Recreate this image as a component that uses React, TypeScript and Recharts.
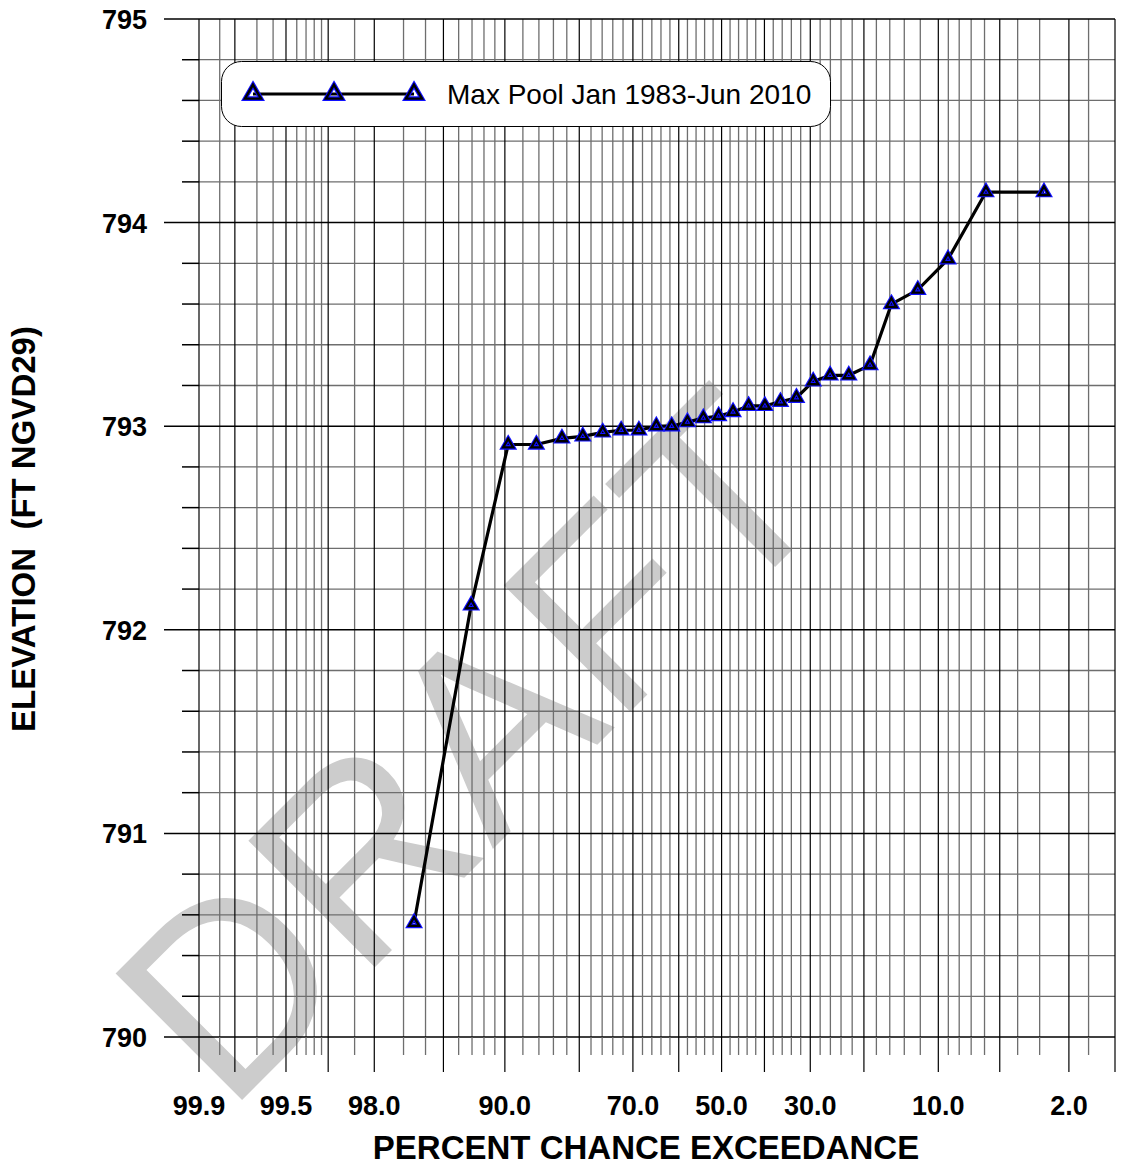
import React from 'react';
import { Legend, Line, LineChart, ReferenceLine, XAxis, YAxis } from 'recharts';

const FONT = '"Liberation Sans", Arial, Helvetica, sans-serif';

// percent chance exceedance of each ranked pool value
const exceedance = [
  96.55, 93.07, 89.65, 86.33, 82.74, 79.41, 75.89, 72.37, 68.76, 65.02, 61.6, 58.0, 54.3, 50.7,
  47.3, 43.65, 39.9, 36.4, 32.9, 29.4, 26.05, 22.6, 19.0, 15.76, 12.3, 9.03, 5.9, 2.83,
];
const elevation = [
  790.56, 792.12, 792.91, 792.91, 792.94, 792.95, 792.97, 792.98, 792.98, 793.0, 793.0, 793.02,
  793.04, 793.05, 793.07, 793.1, 793.1, 793.12, 793.14, 793.22, 793.25, 793.25, 793.3, 793.6,
  793.67, 793.82, 794.15, 794.15,
];

const labeledPct = [99.9, 99.5, 98, 90, 70, 50, 30, 10, 2];
const majorPct = [99.9, 99.8, 99.5, 99, 98, 95, 90, 80, 70, 60, 50, 40, 30, 20, 10, 5, 2, 1];
const minorPct = [
  99.85, 99.7, 99.6, 99.4, 99.3, 99.2, 99.1, 98.5, 97, 96, 94, 93, 92, 91, 88, 86, 84, 82, 78, 76,
  74, 72, 68, 66, 64, 62, 58, 56, 54, 52, 48, 46, 44, 42, 38, 36, 34, 32, 28, 26, 24, 22, 18, 16,
  14, 12, 9, 8, 7, 6, 4, 3, 1.5,
];
const elevMajor = [790, 791, 792, 793, 794, 795];
const elevMinor = [
  790.2, 790.4, 790.6, 790.8, 791.2, 791.4, 791.6, 791.8, 792.2, 792.4, 792.6, 792.8, 793.2, 793.4,
  793.6, 793.8, 794.2, 794.4, 794.6, 794.8,
];

// inverse standard normal (Acklam) -> probability paper x position
function invNorm(p: number): number {
  const a = [-39.69683028665376, 220.9460984245205, -275.9285104469687, 138.357751867269, -30.66479806614716, 2.506628277459239];
  const b = [-54.47609879822406, 161.5858368580409, -155.6989798598866, 66.80131188771972, -13.28068155288572];
  const c = [-0.007784894002430293, -0.3223964580411365, -2.400758277161838, -2.549732539343734, 4.374664141464968, 2.938163982698783];
  const d = [0.007784695709041462, 0.3224671290700398, 2.445134137142996, 3.754408661907416];
  const tail = (q: number) =>
    (((((c[0] * q + c[1]) * q + c[2]) * q + c[3]) * q + c[4]) * q + c[5]) /
    ((((d[0] * q + d[1]) * q + d[2]) * q + d[3]) * q + 1);
  if (p < 0.02425) return tail(Math.sqrt(-2 * Math.log(p)));
  if (p > 1 - 0.02425) return -tail(Math.sqrt(-2 * Math.log(1 - p)));
  const q = p - 0.5;
  const r = q * q;
  return (
    ((((((a[0] * r + a[1]) * r + a[2]) * r + a[3]) * r + a[4]) * r + a[5]) * q) /
    (((((b[0] * r + b[1]) * r + b[2]) * r + b[3]) * r + b[4]) * r + 1)
  );
}
const probX = (pct: number) => invNorm(1 - pct / 100);

const data = exceedance.map((p, i) => ({ x: probX(p), pct: p, elev: elevation[i] }));
const xTickPct = [...majorPct, ...minorPct];
const xTicks = xTickPct.map(probX);
const yTicks = [...elevMajor, ...elevMinor];

const BLUE = '#1010ff';
const MINOR = '#6e6e6e';

function Triangle({ cx, cy, side }: { cx: number; cy: number; side: number }) {
  const h = side * 0.866;
  const pts = `${cx},${cy - (h * 2) / 3} ${cx + side / 2},${cy + h / 3} ${cx - side / 2},${cy + h / 3}`;
  return (
    <g>
      <polygon points={pts} fill="none" stroke={BLUE} strokeWidth={4.6} />
      <polygon points={pts} fill="none" stroke="#000" strokeWidth={2.4} />
    </g>
  );
}

const renderDot = (props: any) => (
  <Triangle key={`dot-${props.index}`} cx={props.cx} cy={props.cy} side={10} />
);

const XTick = (props: any) => {
  const { x, y, payload } = props;
  let idx = 0;
  xTicks.forEach((t, i) => {
    if (Math.abs(t - payload.value) < Math.abs(xTicks[idx] - payload.value)) idx = i;
  });
  const pct = xTickPct[idx];
  const major = majorPct.includes(pct);
  return (
    <g>
      <line x1={x} y1={y} x2={x} y2={y + (major ? 35 : 18)} stroke={major ? '#000' : MINOR} strokeWidth={major ? 1.2 : 1.3} />
      {labeledPct.includes(pct) && (
        <text x={x} y={y + 78} textAnchor="middle" fontSize={27} fontWeight="bold" fontFamily={FONT} fill="#000">
          {pct.toFixed(1)}
        </text>
      )}
    </g>
  );
};

const YTick = (props: any) => {
  const { x, y, payload } = props;
  const major = elevMajor.some((v) => Math.abs(v - payload.value) < 1e-6);
  return (
    <g>
      <line x1={x - (major ? 35 : 17)} y1={y} x2={x} y2={y} stroke="#000" strokeWidth={1.5} />
      {major && (
        <text x={x - 52} y={y + 10} textAnchor="end" fontSize={27} fontWeight="bold" fontFamily={FONT} fill="#000">
          {Math.round(payload.value)}
        </text>
      )}
    </g>
  );
};

const XTitle = (props: any) => {
  const { x, y, width } = props.viewBox;
  return (
    <text x={x + width / 2 - 11} y={y + 122} textAnchor="middle" fontSize={33} fontWeight="bold" fontFamily={FONT} fill="#000">
      PERCENT CHANCE EXCEEDANCE
    </text>
  );
};

const YTitle = (props: any) => {
  const { y, height } = props.viewBox;
  const cy = y + height / 2 + 1;
  return (
    <text
      x={35}
      y={cy}
      transform={`rotate(-90 35 ${cy})`}
      textAnchor="middle"
      fontSize={33}
      fontWeight="bold"
      fontFamily={FONT}
      fill="#000"
      style={{ whiteSpace: 'pre' }}
    >
      {'ELEVATION  (FT NGVD29)'}
    </text>
  );
};

const LegendBox = () => (
  <svg width={612} height={68}>
    <rect x={0.5} y={0.5} width={609} height={65} rx={20} ry={20} fill="#fff" stroke="#000" strokeWidth={1} />
    <line x1={32} y1={33} x2={193} y2={33} stroke="#000" strokeWidth={3} />
    <Triangle cx={32} cy={33} side={16} />
    <Triangle cx={113} cy={33} side={16} />
    <Triangle cx={193} cy={33} side={16} />
    <text x={226} y={43} fontSize={28} fontFamily={FONT} fill="#000">
      Max Pool Jan 1983-Jun 2010
    </text>
  </svg>
);

export default function App() {
  return (
    <div style={{ position: 'absolute', left: 0, top: 0, width: 1142, height: 1168, background: '#fff', fontFamily: FONT }}>
      <svg width={1142} height={1168} style={{ position: 'absolute', left: 0, top: 0 }}>
        <text x={227} y={1115} transform="rotate(-45 227 1115)" fontSize={260} fontFamily={FONT} fill="#cccccc">
          DRAFT
        </text>
      </svg>
      <div style={{ position: 'absolute', left: 0, top: 0 }}>
        <LineChart width={1142} height={1168} data={data} margin={{ top: 19, right: 27, bottom: 0, left: 0 }}>
          <XAxis
            type="number"
            dataKey="x"
            scale="linear"
            domain={[probX(99.9), probX(1)]}
            allowDataOverflow
            ticks={xTicks}
            interval={0}
            tick={<XTick />}
            tickLine={false}
            tickSize={0}
            tickMargin={0}
            axisLine={false}
            height={131}
            label={{ content: <XTitle /> }}
          />
          <YAxis
            type="number"
            domain={[790, 795]}
            allowDataOverflow
            ticks={yTicks}
            interval={0}
            tick={<YTick />}
            tickLine={false}
            tickSize={0}
            tickMargin={0}
            axisLine={false}
            width={199}
            label={{ content: <YTitle /> }}
          />
          {minorPct.map((p) => (
            <ReferenceLine key={`vx-${p}`} x={probX(p)} stroke={MINOR} strokeWidth={1.3} zIndex={-100} />
          ))}
          {elevMinor.map((v) => (
            <ReferenceLine key={`hy-${v}`} y={v} stroke={MINOR} strokeWidth={1.3} zIndex={-100} />
          ))}
          {majorPct.map((p) => (
            <ReferenceLine key={`VX-${p}`} x={probX(p)} stroke="#000" strokeWidth={1.2} zIndex={-90} />
          ))}
          {elevMajor.map((v) => (
            <ReferenceLine key={`HY-${v}`} y={v} stroke="#000" strokeWidth={1.5} zIndex={-90} />
          ))}
          <Line
            type="linear"
            dataKey="elev"
            stroke="#000"
            strokeWidth={3.2}
            dot={renderDot}
            activeDot={false}
            isAnimationActive={false}
          />
          <Legend
            layout="horizontal"
            verticalAlign="middle"
            align="center"
            content={() => <LegendBox />}
            wrapperStyle={{ left: 221, top: 61, width: 612, height: 68 }}
          />
        </LineChart>
      </div>
    </div>
  );
}
